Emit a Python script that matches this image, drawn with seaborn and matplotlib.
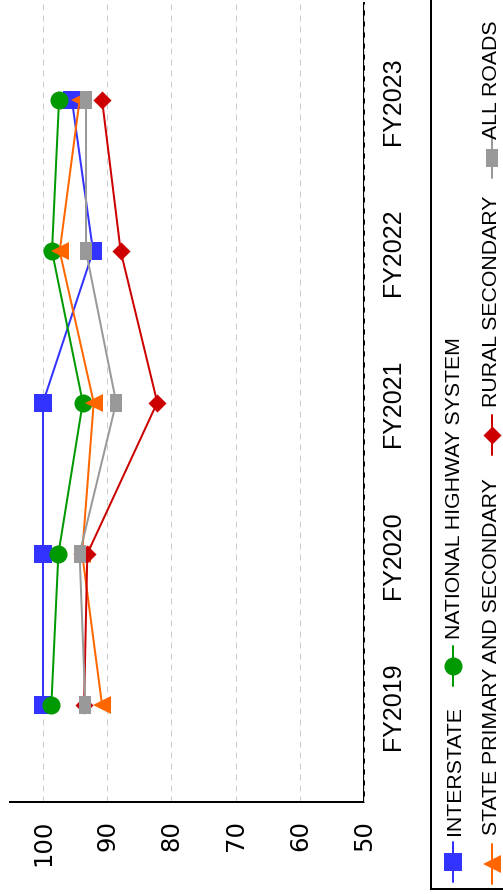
import matplotlib
matplotlib.use("Agg")
import matplotlib.pyplot as plt
from matplotlib.lines import Line2D
from matplotlib.patches import Rectangle
import numpy as np
import pandas as pd
import seaborn as sns

# ---------------- data ----------------
years = ["FY2019", "FY2020", "FY2021", "FY2022", "FY2023"]
series_names = ["INTERSTATE", "NATIONAL HIGHWAY SYSTEM",
                "STATE PRIMARY AND SECONDARY", "RURAL SECONDARY", "ALL ROADS"]
interstate = [100.0, 100.0, 100.0, 92.2, 95.5]
national_highway_system = [98.7, 97.6, 93.8, 98.6, 97.5]
state_primary_secondary = [90.8, 93.9, 92.1, 97.4, 94.3]
rural_secondary = [93.6, 93.1, 82.2, 87.9, 90.8]
all_roads = [93.4, 94.3, 88.6, 93.3, 93.3]
value_ticks = [100, 90, 80, 70, 60, 50]
value_tick_labels = ["100", "90", "80", "70", "60", "50"]

# ---------------- styles ----------------
colors = {
    "INTERSTATE": "#3333ff",
    "NATIONAL HIGHWAY SYSTEM": "#009900",
    "STATE PRIMARY AND SECONDARY": "#ff6600",
    "RURAL SECONDARY": "#cc0000",
    "ALL ROADS": "#999999",
}
DIAMOND = [(0, 1), (1, 0), (0, -1), (-1, 0)]
RECT = [(-0.31, -0.5), (0.31, -0.5), (0.31, 0.5), (-0.31, 0.5)]
markers = {
    "INTERSTATE": "s",
    "NATIONAL HIGHWAY SYSTEM": "o",
    "STATE PRIMARY AND SECONDARY": "<",
    "RURAL SECONDARY": DIAMOND,
    "ALL ROADS": RECT,
}

sns.set_style("white")
plt.rcParams["font.family"] = ["DejaVu Sans"]

W, H = 503, 895
fig = plt.figure(figsize=(W / 100, H / 100), dpi=100)


def fx(x):
    return x / W


def fy(y):
    return 1 - y / H


ax = fig.add_axes([fx(10), fy(803), (364 - 10) / W, (803 - 4) / H])

values = interstate + national_highway_system + state_primary_secondary + rural_secondary + all_roads
df = pd.DataFrame({
    "series": np.repeat(series_names, len(years)),
    "year": years * len(series_names),
    "pos": list(range(len(years))) * len(series_names),
    "value": values,
})

sns.lineplot(data=df, x="value", y="pos", hue="series", style="series",
             hue_order=series_names, style_order=series_names,
             palette=colors, markers=markers, dashes=False, orient="y",
             estimator=None, linewidth=1.44, markersize=13,
             markeredgewidth=0, legend=False, ax=ax)

ax.set_xlabel("")
ax.set_ylabel("")
ax.set_xlim(105.14, 50)
ax.set_ylim(-0.641, 4.641)

ax.set_xticks(value_ticks, labels=value_tick_labels)
ax.tick_params(axis="x", labelrotation=90, length=3.6, width=1.44, pad=8.5,
               labelsize=17.5, colors="black")

ax.yaxis.tick_right()
ax.set_yticks(range(len(years)), labels=years, fontfamily="Liberation Sans", fontsize=18)
ax.tick_params(axis="y", labelrotation=90, length=0, pad=12,
               labelright=True, labelleft=False, colors="black")
for lbl in ax.get_yticklabels():
    lbl.set_verticalalignment("center")

for side in ["top", "left"]:
    ax.spines[side].set_visible(False)
for side in ["bottom", "right"]:
    ax.spines[side].set_visible(True)
    ax.spines[side].set_color("black")
    ax.spines[side].set_linewidth(1.44)

ax.set_axisbelow(True)
ax.grid(axis="x", color="#cccccc", linewidth=0.72, linestyle=(0, (6, 5)))
ax.grid(axis="y", visible=False)
ax.axvline(50, color="#dddddd", linewidth=0.72, linestyle=(0, (6, 5)), zorder=3, clip_on=False)

# ---------------- legend (rotated, flow layout) ----------------
fig.add_artist(Rectangle((fx(431), fy(890)), 0.3, 1.2, transform=fig.transFigure,
                         facecolor="white", edgecolor="black", linewidth=1.44, zorder=1))

# (name, handle x, handle centre y, text x, text start y) in pixels from top-left
legend_layout = [
    ("INTERSTATE", 453, 863, 455, 835),
    ("NATIONAL HIGHWAY SYSTEM", 453, 667, 455, 639),
    ("STATE PRIMARY AND SECONDARY", 492, 865, 491.5, 835),
    ("RURAL SECONDARY", 492, 436, 491.5, 407),
    ("ALL ROADS", 492, 159, 491.5, 139),
]
for name, hx, ym, tx, yt in legend_layout:
    fig.add_artist(Line2D([fx(hx)] * 3, [fy(ym - 20), fy(ym), fy(ym + 20)],
                          color=colors[name], linewidth=1.44, marker=markers[name],
                          markevery=[1], markersize=13, markeredgewidth=0,
                          transform=fig.transFigure, zorder=2))
    fig.text(fx(tx), fy(yt), name, rotation=90, rotation_mode="anchor",
             ha="left", va="center", fontsize=15.3, family="Liberation Sans",
             color="black", zorder=3)

fig.savefig("out.png", dpi=100)
